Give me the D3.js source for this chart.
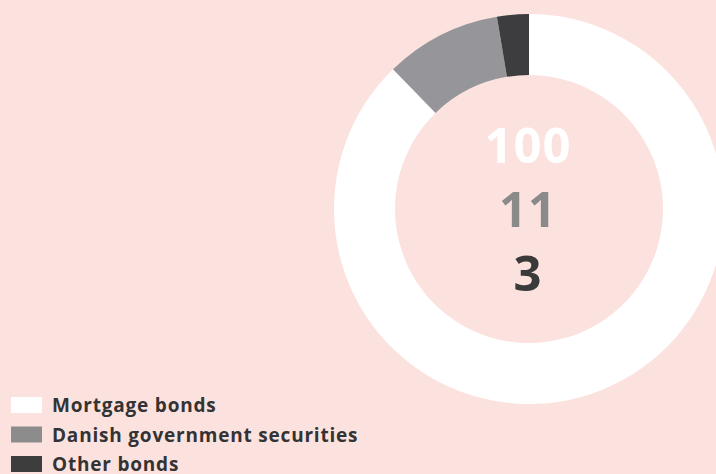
<!DOCTYPE html>
<html>
<head>
<meta charset="utf-8">
<script src="https://cdn.jsdelivr.net/npm/d3@7"></script>
<style>
  html, body { margin: 0; padding: 0; background: #fce2df; }
  svg { display: block; }
  text { font-family: "Open Sans", "Noto Sans", sans-serif; font-weight: bold; }
</style>
</head>
<body>
<div id="chart"></div>
<script>
var width = 716,
    height = 474;

// data
var categories = ["Mortgage bonds", "Danish government securities", "Other bonds"];
var values = [100, 11, 3];
var colors = ["#ffffff", "#96969a", "#3d3d40"];
var labelColors = ["#ffffff", "#8a8a8a", "#3a3a3a"];
var legendColors = ["#ffffff", "#8c8c8c", "#3d3d3d"];

var cx = 529, cy = 209,
    outerR = 195, innerR = 134;

var svg = d3.select("#chart").append("svg")
    .attr("width", width)
    .attr("height", height);

var pie = d3.pie().sort(null).value(function(d) { return d; });
var arc = d3.arc().innerRadius(innerR).outerRadius(outerR);

var donut = svg.append("g")
    .attr("transform", "translate(" + cx + "," + cy + ")");

donut.selectAll("path")
  .data(pie(values))
  .enter().append("path")
    .attr("d", arc)
    .attr("fill", function(d, i) { return colors[i]; });

// centre numbers
var labelY = d3.scalePoint().domain(d3.range(values.length)).range([163, 291]);

svg.selectAll(".num")
  .data(values)
  .enter().append("text")
    .attr("class", "num")
    .attr("x", cx - 1)
    .attr("y", function(d, i) { return labelY(i); })
    .attr("text-anchor", "middle")
    .attr("font-size", 49)
    .attr("letter-spacing", 1)
    .attr("fill", function(d, i) { return labelColors[i]; })
    .text(function(d) { return d; });

// legend
var legendY = d3.scalePoint().domain(d3.range(categories.length)).range([397, 456]);

var legend = svg.selectAll(".legend")
  .data(categories)
  .enter().append("g")
    .attr("class", "legend")
    .attr("transform", function(d, i) { return "translate(11," + legendY(i) + ")"; });

legend.append("rect")
    .attr("width", 31)
    .attr("height", 16)
    .attr("fill", function(d, i) { return legendColors[i]; });

legend.append("text")
    .attr("x", 41)
    .attr("y", 15)
    .attr("font-size", 19)
    .attr("letter-spacing", 0.8)
    .attr("fill", "#333333")
    .text(function(d) { return d; });
</script>
</body>
</html>
